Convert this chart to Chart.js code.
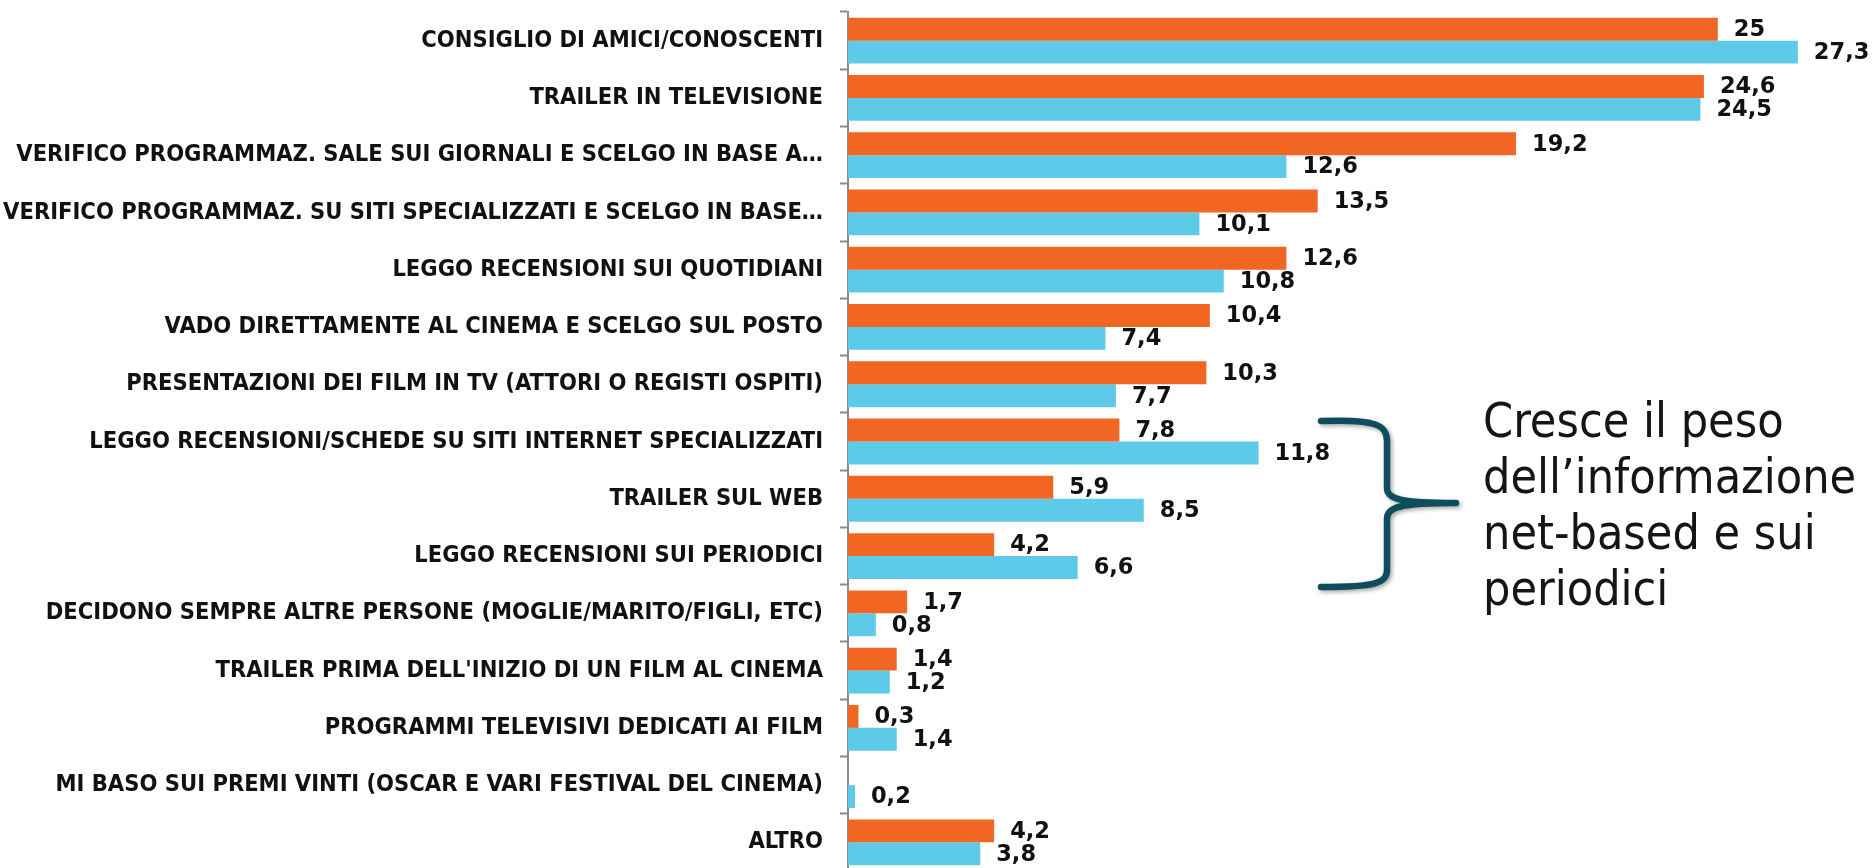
<!DOCTYPE html>
<html>
<head>
<meta charset="utf-8">
<script src="https://cdn.jsdelivr.net/npm/chart.js@4"></script>
<style>
html,body{margin:0;padding:0;background:#fff;overflow:hidden;}
#wrap{width:1874px;height:880px;position:relative;}
</style>
</head>
<body>
<div id="wrap"><canvas id="c" width="1874" height="880"></canvas></div>
<script>
const categories = [
  "CONSIGLIO DI AMICI/CONOSCENTI",
  "TRAILER IN TELEVISIONE",
  "VERIFICO PROGRAMMAZ. SALE SUI GIORNALI E SCELGO IN BASE A…",
  "VERIFICO PROGRAMMAZ. SU SITI SPECIALIZZATI E SCELGO IN BASE…",
  "LEGGO RECENSIONI SUI QUOTIDIANI",
  "VADO DIRETTAMENTE AL CINEMA E SCELGO SUL POSTO",
  "PRESENTAZIONI DEI FILM IN TV (ATTORI O REGISTI OSPITI)",
  "LEGGO RECENSIONI/SCHEDE SU SITI INTERNET SPECIALIZZATI",
  "TRAILER SUL WEB",
  "LEGGO RECENSIONI SUI PERIODICI",
  "DECIDONO SEMPRE ALTRE PERSONE (MOGLIE/MARITO/FIGLI, ETC)",
  "TRAILER PRIMA DELL'INIZIO DI UN FILM AL CINEMA",
  "PROGRAMMI TELEVISIVI DEDICATI AI FILM",
  "MI BASO SUI PREMI VINTI (OSCAR E VARI FESTIVAL DEL CINEMA)",
  "ALTRO"
];
const seriesOrange = [25, 24.6, 19.2, 13.5, 12.6, 10.4, 10.3, 7.8, 5.9, 4.2, 1.7, 1.4, 0.3, null, 4.2];
const seriesBlue   = [27.3, 24.5, 12.6, 10.1, 10.8, 7.4, 7.7, 11.8, 8.5, 6.6, 0.8, 1.2, 1.4, 0.2, 3.8];
const noteLines = ["Cresce il peso", "dell\u2019informazione", "net-based e sui", "periodici"];

const ORANGE = "#F26624";
const BLUE = "#5DCAE8";

const valueLabels = {
  id: "valueLabels",
  afterDatasetsDraw(chart) {
    const ctx = chart.ctx;
    ctx.save();
    ctx.font = "bold 22.5px 'DejaVu Sans'";
    ctx.fillStyle = "#111";
    ctx.textAlign = "left";
    ctx.textBaseline = "middle";
    chart.data.datasets.forEach((ds, di) => {
      const meta = chart.getDatasetMeta(di);
      meta.data.forEach((bar, i) => {
        const v = ds.data[i];
        if (v === null || v === undefined) return;
        const txt = String(v).replace(".", ",");
        ctx.fillText(txt, bar.x + 16, bar.y + 1);
      });
    });
    ctx.restore();
  }
};

const note = {
  id: "note",
  afterDraw(chart) {
    const ctx = chart.ctx;
    ctx.save();
    ctx.strokeStyle = "#0E4E5C";
    ctx.lineWidth = 6.5;
    ctx.lineCap = "round";
    ctx.lineJoin = "round";
    ctx.shadowColor = "rgba(0,0,0,0.35)";
    ctx.shadowBlur = 4;
    ctx.shadowOffsetX = 2;
    ctx.shadowOffsetY = 2;
    ctx.beginPath();
    ctx.moveTo(1321, 421);
    ctx.bezierCurveTo(1376, 419, 1387, 425, 1387, 441);
    ctx.lineTo(1387, 488);
    ctx.bezierCurveTo(1387, 499, 1400, 503, 1456, 503);
    ctx.moveTo(1456, 503);
    ctx.bezierCurveTo(1400, 503, 1387, 507, 1387, 519);
    ctx.lineTo(1387, 570);
    ctx.bezierCurveTo(1387, 583, 1376, 587, 1321, 587);
    ctx.stroke();
    ctx.restore();
    ctx.save();
    ctx.fillStyle = "#151515";
    ctx.font = "48px 'DejaVu Sans Condensed'";
    ctx.textAlign = "left";
    ctx.textBaseline = "alphabetic";
    noteLines.forEach((t, i) => ctx.fillText(t, 1483, 437 + i * 56));
    ctx.restore();
  }
};

new Chart(document.getElementById("c"), {
  type: "bar",
  data: {
    labels: categories,
    datasets: [
      { data: seriesOrange, backgroundColor: ORANGE, borderWidth: 0, categoryPercentage: 0.8, barPercentage: 1.0 },
      { data: seriesBlue, backgroundColor: BLUE, borderWidth: 0, categoryPercentage: 0.8, barPercentage: 1.0 }
    ]
  },
  options: {
    indexAxis: "y",
    responsive: false,
    animation: false,
    layout: { padding: { top: 12, bottom: 9, left: 0, right: 17 } },
    plugins: { legend: { display: false }, tooltip: { enabled: false } },
    scales: {
      x: { display: false, min: 0, max: 29 },
      y: {
        afterFit(scale) { scale.width = 848; scale.paddingTop = 0; scale.paddingBottom = 0; },
        grid: { drawOnChartArea: false, drawTicks: true, tickLength: 8, tickColor: "#8a8a8a", tickWidth: 2, offset: true },
        border: { display: true, color: "#8a8a8a", width: 2 },
        ticks: { color: "#111", padding: 17, font: { family: "'DejaVu Sans Condensed'", weight: "bold", size: 23.5 }, autoSkip: false }
      }
    }
  },
  plugins: [valueLabels, note]
});
</script>
</body>
</html>
